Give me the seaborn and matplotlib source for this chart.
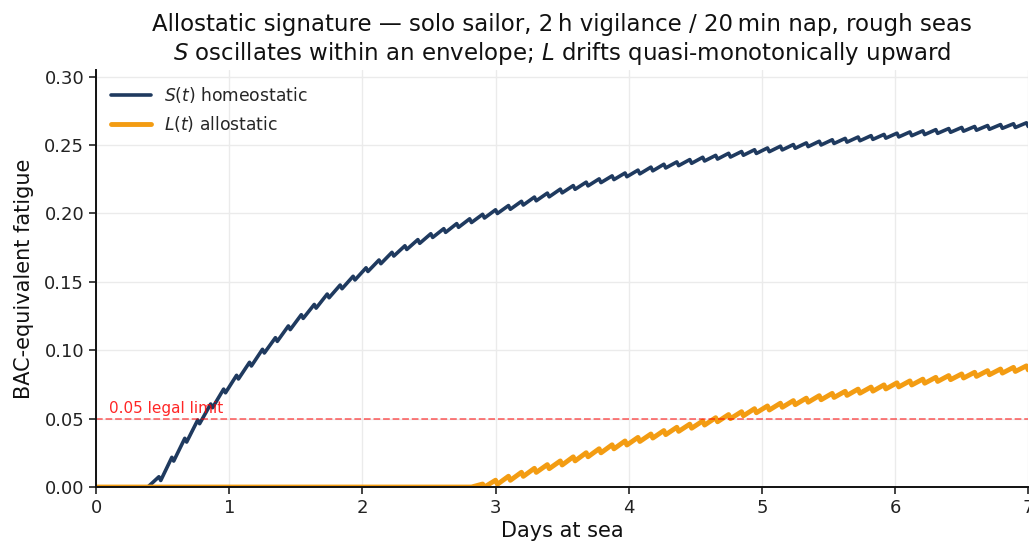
import numpy as np
import pandas as pd
import matplotlib
matplotlib.use("Agg")
import matplotlib.pyplot as plt
import seaborn as sns

# --- cycle timing (2 h vigilance + 20 min nap) ---
vigil_min = 120
nap_min = 20
n_cycles = 72

# --- peak value at the end of each 2 h watch ---
s_peak = [0, 0, 0, 0, 0.0075, 0.0217, 0.0356, 0.049, 0.0607, 0.0716,
          0.0817, 0.0912, 0.1007, 0.1092, 0.1178, 0.126, 0.1335, 0.1411, 0.1477, 0.1541,
          0.1603, 0.166, 0.1716, 0.1764, 0.1809, 0.1852, 0.1889, 0.1926, 0.1961, 0.1994,
          0.2027, 0.2058, 0.2089, 0.212, 0.2149, 0.2178, 0.2204, 0.2229, 0.2253, 0.2275,
          0.2296, 0.2317, 0.2339, 0.236, 0.2377, 0.2394, 0.2411, 0.2425, 0.244, 0.2453,
          0.2466, 0.2479, 0.2492, 0.2504, 0.2516, 0.2528, 0.2539, 0.2549, 0.2559, 0.2569,
          0.2578, 0.2587, 0.2596, 0.2604, 0.2613, 0.2621, 0.2629, 0.2636, 0.2643, 0.265,
          0.2656, 0.2663]
l_peak = [0] * 29 + [0.0022, 0.005, 0.0079, 0.0108, 0.0137, 0.0164, 0.0191, 0.0221, 0.0251,
          0.028, 0.0309, 0.0337, 0.0363, 0.0388, 0.0413, 0.0437, 0.046, 0.0483, 0.0507,
          0.053, 0.0551, 0.0573, 0.0593, 0.0613, 0.0632, 0.065, 0.0668, 0.0685, 0.07,
          0.0716, 0.0731, 0.0747, 0.0762, 0.0776, 0.0789, 0.0802, 0.0815, 0.0827, 0.0839,
          0.0851, 0.0863, 0.0875, 0.0886]
# recovery during each 20 min nap
s_nap_drop = 0.0027
l_nap_drop = 0.003

legal_limit = 0.05
x_ticks = [0, 1, 2, 3, 4, 5, 6, 7]
y_ticks = [0.00, 0.05, 0.10, 0.15, 0.20, 0.25, 0.30]

C_S = "#1f3a5f"
C_L = "#f39c12"


def build(peaks, drop):
    period = (vigil_min + nap_min) / 1440.0
    ts, vs = [0.0], [0.0]
    for k in range(n_cycles):
        ts.append(k * period + vigil_min / 1440.0)
        vs.append(peaks[k])
        ts.append((k + 1) * period)
        vs.append(max(0.0, peaks[k] - drop))
    return pd.DataFrame({"day": ts, "value": vs})


s_df = build(s_peak, s_nap_drop)
l_df = build(l_peak, l_nap_drop)

sns.set_theme(style="whitegrid")
plt.rcParams["font.family"] = ["DejaVu Sans"]

fig = plt.figure(figsize=(10.29, 5.46), dpi=100)
ax = fig.add_axes([0.0933, 0.108, 0.906, 0.764])

sns.lineplot(data=s_df, x="day", y="value", ax=ax, color=C_S, lw=2.6,
             estimator=None, sort=False, label="$S(t)$ homeostatic")
sns.lineplot(data=l_df, x="day", y="value", ax=ax, color=C_L, lw=3.5,
             estimator=None, sort=False, label="$L(t)$ allostatic")

ax.axhline(legal_limit, color="red", ls="--", lw=1.3, alpha=0.55)
ax.text(0.1, legal_limit + 0.002, "0.05 legal limit", color="red", alpha=0.85,
        fontsize=11, va="bottom", ha="left")

ax.set_xlim(0, 7)
ax.set_ylim(0, 0.305)
ax.set_xticks(x_ticks)
ax.set_yticks(y_ticks)
ax.set_yticklabels([f"{v:.2f}" for v in y_ticks])
ax.tick_params(axis="both", labelsize=13, colors="#222222", length=5, width=1.2,
               direction="out", bottom=True, left=True)
ax.grid(True, color="#ebebeb", lw=1.0)
for side in ["top", "right"]:
    ax.spines[side].set_visible(False)
for side in ["left", "bottom"]:
    ax.spines[side].set_color("#111111")
    ax.spines[side].set_linewidth(1.4)

ax.set_xlabel("Days at sea", fontsize=15, labelpad=3, color="#111111")
ax.set_ylabel("BAC-equivalent fatigue", fontsize=15, labelpad=7, color="#111111")
ax.set_title("Allostatic signature \u2014 solo sailor, 2\u2009h vigilance / 20\u2009min nap, rough seas\n"
             "$S$ oscillates within an envelope; $L$ drifts quasi-monotonically upward",
             fontsize=16.5, color="#111111", pad=7)

leg = ax.legend(loc="upper left", frameon=False, fontsize=12.3, bbox_to_anchor=(0.0, 1.0),
                handlelength=2.3)

fig.savefig("out.png", dpi=100)
